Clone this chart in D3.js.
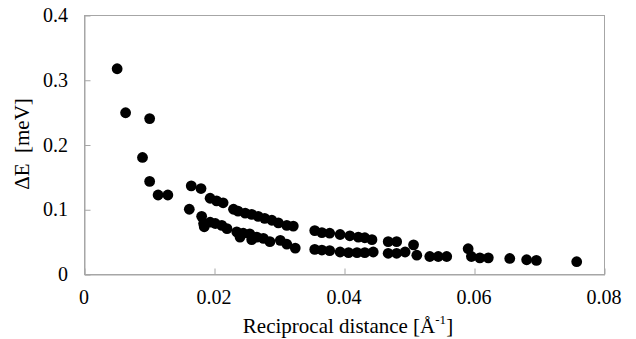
<!DOCTYPE html>
<html>
<head>
<meta charset="utf-8">
<script src="https://cdn.jsdelivr.net/npm/d3@7"></script>
<style>
  html, body { margin: 0; padding: 0; background: #fff; }
  svg { display: block; }
</style>
</head>
<body>
<div id="chart"></div>
<script>
// Reciprocal distance [1/Å]
const reciprocalDistance = [
  0.0051, 0.0064, 0.0101, 0.0090, 0.0101, 0.0114, 0.0129, 0.0165, 0.0180, 0.0162,
  // upper band
  0.0194, 0.0204, 0.0214, 0.0230, 0.0237, 0.0248, 0.0258, 0.0268, 0.0278, 0.0289,
  0.0299, 0.0312, 0.0322, 0.0355, 0.0366, 0.0378, 0.0394, 0.0409, 0.0422, 0.0432,
  0.0443, 0.0468, 0.0481, 0.0507, 0.0591,
  // lower band
  0.0181, 0.0184, 0.0185, 0.0194, 0.0202, 0.0212, 0.0220, 0.0235, 0.0240, 0.0245,
  0.0255, 0.0258, 0.0266, 0.0276, 0.0286, 0.0302, 0.0312, 0.0325, 0.0355, 0.0366,
  0.0378, 0.0394, 0.0407, 0.0420, 0.0432, 0.0445, 0.0468, 0.0481, 0.0494, 0.0512,
  0.0532, 0.0545, 0.0558, 0.0596, 0.0609, 0.0622, 0.0655, 0.0681, 0.0696, 0.0758
]

// Energy splitting ΔE [meV], same order
const deltaE = [
  0.317, 0.249, 0.240, 0.180, 0.143, 0.122, 0.122, 0.136, 0.132, 0.100,
  0.117, 0.113, 0.110, 0.100, 0.097, 0.094, 0.092, 0.089, 0.086, 0.083,
  0.079, 0.075, 0.074, 0.067, 0.064, 0.063, 0.061, 0.059, 0.057, 0.056,
  0.053, 0.050, 0.050, 0.045, 0.039,
  0.089, 0.078, 0.073, 0.080, 0.078, 0.075, 0.070, 0.065, 0.057, 0.063,
  0.062, 0.053, 0.057, 0.055, 0.050, 0.052, 0.046, 0.040, 0.038, 0.037,
  0.036, 0.034, 0.033, 0.033, 0.033, 0.034, 0.032, 0.032, 0.034, 0.029,
  0.027, 0.027, 0.027, 0.027, 0.025, 0.025, 0.024, 0.022, 0.021, 0.019
]

const xTicks = [0, 0.02, 0.04, 0.06, 0.08]
const xTickLabels = ['0', '0.02', '0.04', '0.06', '0.08']
const yTicks = [0, 0.1, 0.2, 0.3, 0.4]
const yTickLabels = ['0', '0.1', '0.2', '0.3', '0.4']

const width = 636
const height = 339
const margin = { top: 15, right: 32, bottom: 65, left: 84 }
const innerWidth = width - margin.left - margin.right
const innerHeight = height - margin.top - margin.bottom
const fontFamily = "'Liberation Serif', 'Times New Roman', serif"
const axisColor = '#a6a6a6'

const svg = d3
  .select('#chart')
  .append('svg')
  .attr('width', width)
  .attr('height', height)
  .attr('viewBox', [0, 0, width, height])

const g = svg
  .append('g')
  .attr('transform', `translate(${margin.left},${margin.top})`)

const xScale = d3.scaleLinear().domain([0, 0.08]).range([0, innerWidth])
const yScale = d3.scaleLinear().domain([0, 0.4]).range([innerHeight, 0])

// Plot frame
g.append('rect')
  .attr('x', 0.5)
  .attr('y', 0.5)
  .attr('width', innerWidth)
  .attr('height', innerHeight)
  .attr('fill', 'none')
  .attr('stroke', axisColor)

// Axes: lines from d3, ticks pointing inward, labels drawn below
const xAxis = g
  .append('g')
  .attr('transform', `translate(0.5,${innerHeight + 0.5})`)
  .call(
    d3
      .axisBottom(xScale)
      .tickValues(xTicks)
      .tickSizeInner(-6)
      .tickSizeOuter(0)
      .tickFormat('')
  )
xAxis.select('.domain').attr('stroke', axisColor)
xAxis.selectAll('.tick line').attr('stroke', axisColor)
xAxis.selectAll('.tick text').remove()

const yAxis = g
  .append('g')
  .attr('transform', 'translate(0.5,0.5)')
  .call(
    d3
      .axisLeft(yScale)
      .tickValues(yTicks)
      .tickSizeInner(-6)
      .tickSizeOuter(0)
      .tickFormat('')
  )
yAxis.select('.domain').attr('stroke', axisColor)
yAxis.selectAll('.tick line').attr('stroke', axisColor)
yAxis.selectAll('.tick text').remove()

// Tick labels
g.selectAll('.x-label')
  .data(xTicks)
  .enter()
  .append('text')
  .attr('class', 'x-label')
  .attr('x', (d) => xScale(d))
  .attr('y', innerHeight + 30)
  .attr('text-anchor', 'middle')
  .attr('font-family', fontFamily)
  .attr('font-size', 20)
  .attr('fill', '#000')
  .text((d, i) => xTickLabels[i])

g.selectAll('.y-label')
  .data(yTicks)
  .enter()
  .append('text')
  .attr('class', 'y-label')
  .attr('x', -16)
  .attr('y', (d) => yScale(d) + 7)
  .attr('text-anchor', 'end')
  .attr('font-family', fontFamily)
  .attr('font-size', 20)
  .attr('fill', '#000')
  .text((d, i) => yTickLabels[i])

// Data points
const points = reciprocalDistance.map((x, i) => ({ x, y: deltaE[i] }))
g.selectAll('.pt')
  .data(points)
  .enter()
  .append('circle')
  .attr('class', 'pt')
  .attr('cx', (d) => xScale(d.x))
  .attr('cy', (d) => yScale(d.y))
  .attr('r', 5.4)
  .attr('fill', '#000')

// Axis titles
const xTitle = svg
  .append('text')
  .attr('x', margin.left + innerWidth / 2 + 4)
  .attr('y', 333)
  .attr('text-anchor', 'middle')
  .attr('font-family', fontFamily)
  .attr('font-size', 21)
  .attr('fill', '#000')
xTitle.append('tspan').text('Reciprocal distance [Å')
xTitle.append('tspan').attr('font-size', 13).attr('dy', -9).text('-1')
xTitle.append('tspan').attr('dy', 9).text(']')

svg
  .append('text')
  .attr('transform', 'translate(29,144) rotate(-90)')
  .attr('text-anchor', 'middle')
  .attr('font-family', fontFamily)
  .attr('font-size', 21)
  .attr('fill', '#000')
  .attr('xml:space', 'preserve')
  .text('ΔE  [meV]')
</script>
</body>
</html>
